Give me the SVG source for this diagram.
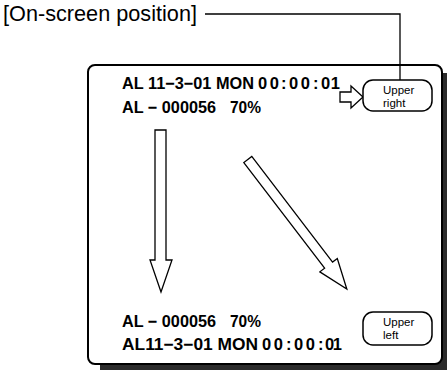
<svg xmlns="http://www.w3.org/2000/svg" width="447" height="371" viewBox="0 0 447 371">
<style>
.lbl{font-family:"Liberation Sans",Arial,sans-serif;font-size:21.5px;fill:#000}
.b{font-family:"Liberation Sans",Arial,sans-serif;font-size:16.5px;font-weight:bold;fill:#000}
.s{font-family:"Liberation Sans",Arial,sans-serif;font-size:11.5px;fill:#000}
.arr{fill:#fff;stroke:#000;stroke-width:1.3;stroke-linejoin:miter}
.tag{fill:#fff;stroke:#000;stroke-width:1.5}
</style>
<rect width="447" height="371" fill="#fff"/>
<g id="screen">
<rect x="100" y="73" width="354" height="297" fill="#2b2b2b"/>
<rect x="88" y="65" width="354" height="299" rx="7" fill="#fff" stroke="#000" stroke-width="2"/>
</g>
<g id="title">
<text class="lbl" x="3" y="21" textLength="194" lengthAdjust="spacingAndGlyphs">[On-screen position]</text>
</g>
<g id="connectors">
<polyline points="205,14 400,14 400,80" fill="none" stroke="#000" stroke-width="1.3"/>
<polygon class="arr" points="340,92 351,92 351,86 363,97 351,108 351,102 340,102"/>
<polygon class="arr" points="155,130 166,130 166,260 172,260 161,292 150,260 155,260"/>
<polygon class="arr" transform="translate(247.8,159.5) rotate(52.6)" points="0,-5 133,-5 133,-11 163,0 133,11 133,5 0,5"/>
</g>
<g id="top-lines">
<text class="b" y="89"><tspan x="122" textLength="132" lengthAdjust="spacingAndGlyphs">AL 11−3−01 MON</tspan><tspan x="258" textLength="21" lengthAdjust="spacing">00</tspan><tspan x="281">:</tspan><tspan x="289" textLength="21" lengthAdjust="spacing">00</tspan><tspan x="313">:</tspan><tspan x="321" textLength="19" lengthAdjust="spacing">01</tspan></text>
<text class="b" y="113"><tspan x="122" textLength="94" lengthAdjust="spacingAndGlyphs">AL − 000056</tspan><tspan x="230" textLength="31" lengthAdjust="spacingAndGlyphs">70%</tspan></text>
</g>
<g id="bottom-lines">
<text class="b" y="327"><tspan x="122" textLength="94" lengthAdjust="spacingAndGlyphs">AL − 000056</tspan><tspan x="230" textLength="31" lengthAdjust="spacingAndGlyphs">70%</tspan></text>
<text class="b" y="350"><tspan x="122" textLength="136" lengthAdjust="spacingAndGlyphs">AL11−3−01 MON</tspan><tspan x="262" textLength="21" lengthAdjust="spacing">00</tspan><tspan x="286">:</tspan><tspan x="294" textLength="21" lengthAdjust="spacing">00</tspan><tspan x="318">:</tspan><tspan x="325" textLength="17" lengthAdjust="spacing">01</tspan></text>
</g>
<g id="upper-right">
<rect class="tag" x="363" y="80" width="69" height="31" rx="10"/>
<text class="s" x="383" y="93.5">Upper</text>
<text class="s" x="383" y="107">right</text>
</g>
<g id="upper-left">
<rect class="tag" x="363" y="312" width="69" height="33" rx="10"/>
<text class="s" x="383" y="325.5">Upper</text>
<text class="s" x="383" y="339">left</text>
</g>
</svg>
